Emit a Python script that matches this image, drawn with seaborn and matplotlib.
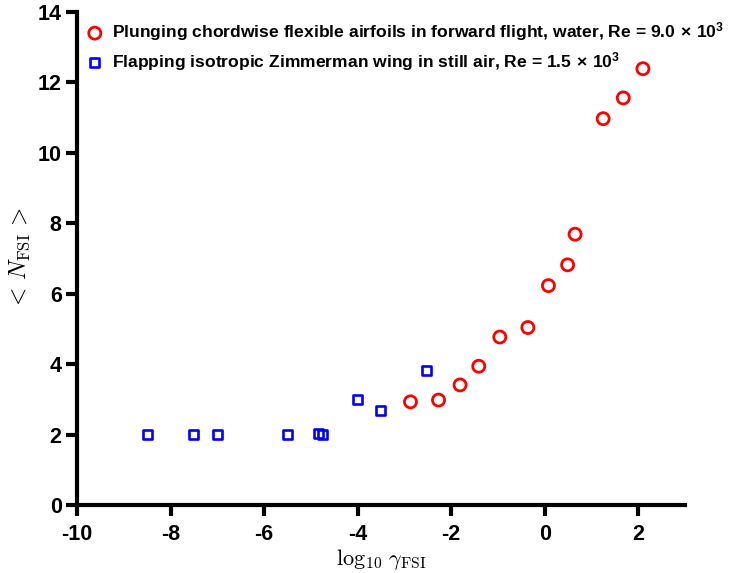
import matplotlib
matplotlib.use("Agg")
import matplotlib.pyplot as plt
import seaborn as sns
import numpy as np

# Data
plunge_x = [-2.87, -2.27, -1.81, -1.41, -0.96, -0.36, 0.08, 0.49, 0.65, 1.25, 1.68, 2.10]
plunge_y = [2.93, 2.98, 3.41, 3.94, 4.77, 5.04, 6.23, 6.82, 7.69, 10.97, 11.56, 12.39]
flap_x = [-8.5, -7.5, -7.0, -5.5, -4.83, -4.76, -4.01, -3.51, -2.53]
flap_y = [2.0, 2.0, 2.0, 2.0, 2.02, 2.0, 3.0, 2.67, 3.81]

label_plunge = "Plunging chordwise flexible airfoils in forward flight, water, Re = 9.0$\\,\\times\\,$10$^{\\mathbf{3}}$"
label_flap = "Flapping isotropic Zimmerman wing in still air, Re = 1.5$\\,\\times\\,$10$^{\\mathbf{3}}$"

sns.set_theme(style="ticks")
plt.rcParams['font.family'] = ['Liberation Sans', 'DejaVu Sans']
plt.rcParams['font.weight'] = 'bold'
plt.rcParams['axes.unicode_minus'] = False
plt.rcParams['mathtext.fontset'] = 'custom'
plt.rcParams['mathtext.rm'] = 'Liberation Sans:bold'
plt.rcParams['mathtext.bf'] = 'Liberation Sans:bold'
plt.rcParams['mathtext.it'] = 'Liberation Sans:bold:italic'
plt.rcParams['text.color'] = 'black'
plt.rcParams['axes.labelcolor'] = 'black'

fig = plt.figure(figsize=(7.30, 5.73), dpi=100)
ax = fig.add_axes([77/730, 1 - 505/573, (685-77)/730, (505-12)/573])

sns.scatterplot(x=plunge_x, y=plunge_y, ax=ax, marker='o', s=75,
                facecolor='none', edgecolor='#ff0000', linewidth=2.0,
                label=label_plunge, zorder=3)
sns.scatterplot(x=flap_x, y=flap_y, ax=ax, marker='s', s=42,
                facecolor='none', edgecolor='#0000ff', linewidth=1.9,
                label=label_flap, zorder=3)

ax.set_xlim(-10, 3)
ax.set_ylim(0, 14)
ax.set_xticks([-10, -8, -6, -4, -2, 0, 2])
ax.set_yticks([0, 2, 4, 6, 8, 10, 12, 14])

for s in ['top', 'right']:
    ax.spines[s].set_visible(False)
for s in ['left', 'bottom']:
    ax.spines[s].set_linewidth(3)
    ax.spines[s].set_color('black')
ax.tick_params(axis='both', width=3, length=8, labelsize=15.5, color='black',
               labelcolor='black')
ax.tick_params(axis='x', pad=6)
ax.tick_params(axis='y', pad=3)
for lab in ax.get_xticklabels() + ax.get_yticklabels():
    lab.set_fontweight('bold')

xl = ax.set_xlabel(r"$\log_{10}\,\gamma_{\rm FSI}$", fontsize=16, color='black')
xl.set_math_fontfamily('cm')
yl = ax.set_ylabel(r"$<\,N_{\rm FSI}\,>$", fontsize=17, color='black', labelpad=4)
yl.set_math_fontfamily('cm')
ax.xaxis.set_label_coords(0.5, -0.085)

leg = ax.legend(loc='upper left', bbox_to_anchor=(0.012, 0.99), frameon=False,
                fontsize=12.6, handlelength=0.8, handletextpad=0.6,
                labelspacing=0.38, borderaxespad=0.0, borderpad=0.2)
for t in leg.get_texts():
    t.set_fontweight('bold')
    t.set_color('black')

fig.savefig("out.png", dpi=100)
